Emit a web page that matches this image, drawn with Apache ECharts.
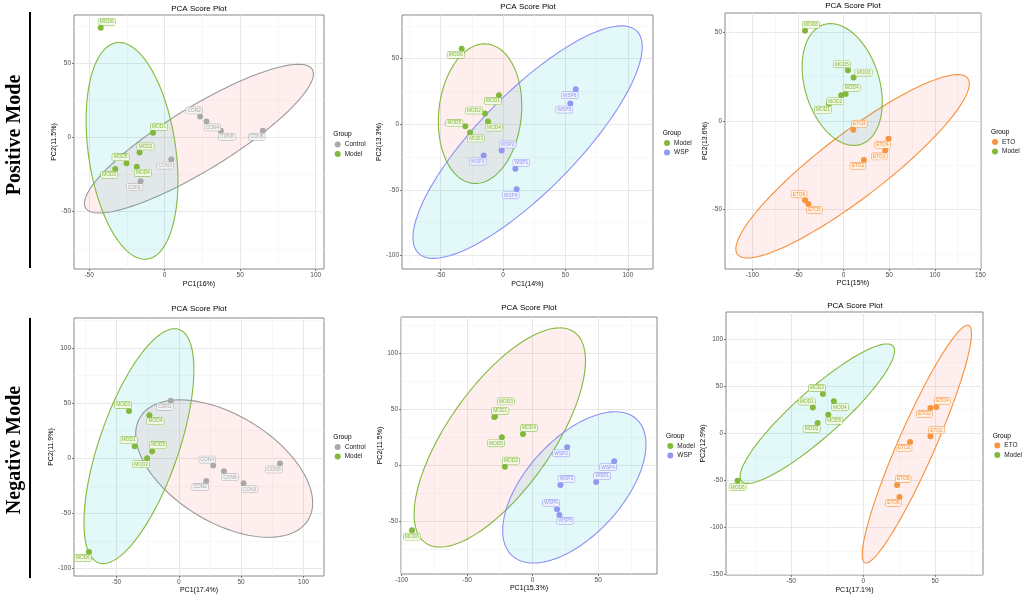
<!DOCTYPE html>
<html>
<head>
<meta charset="utf-8">
<title>PCA Score Plot</title>
<script src="https://cdn.jsdelivr.net/npm/echarts@6/dist/echarts.min.js"></script>
<style>
html,body{margin:0;padding:0;background:#fff;}
#main{width:1024px;height:595px;}
</style>
</head>
<body>
<div id="main"></div>
<script>
// ---------- data, points ordered 1..6 ----------
// Positive mode: Control vs Model
var p1ConX = [-15.9, 23.5, 4.4, 27.7, 65.0, 37.2];
var p1ConY = [-29.5, 14.2, -14.9, 10.8, 4.5, 4.5];
var p1ModX = [-7.7, -16.6, -32.7, -18.4, -25.2, -42.3];
var p1ModY = [3.2, -10.1, -21.2, -19.8, -17.3, 73.9];
// Positive mode: Model vs WSP
var p2ModX = [-3.2, -14.4, -26.4, -12.0, -30.2, -33.1];
var p2ModY = [22.1, 8.1, -6.3, 2.0, -1.5, 57.4];
var p2WspX = [9.9, -1.1, -15.5, 10.9, 53.9, 58.2];
var p2WspY = [-34.0, -20.1, -23.9, -49.7, 15.7, 26.6];
// Positive mode: ETO vs Model
var p3EtoX = [45.6, 22.2, 10.6, 49.2, -38.6, -42.3];
var p3EtoY = [-16.6, -22.0, -4.9, -10.0, -46.9, -44.8];
var p3ModX = [-16.0, -2.6, 10.9, 2.2, 4.7, -42.3];
var p3ModY = [9.8, 14.5, 24.5, 15.3, 28.6, 51.0];
// Negative mode: Control vs Model
var p4ConX = [-6.4, 22.0, 52.0, 27.6, 81.2, 36.2];
var p4ConY = [52.0, -20.6, -22.7, -6.7, -4.8, -11.8];
var p4ModX = [-35.4, -25.4, -39.9, -23.6, -21.4, -72.1];
var p4ModY = [10.9, 0.0, 42.7, 39.0, 6.4, -85.0];
// Negative mode: Model vs WSP
var p5ModX = [-29.3, -21.2, -28.8, -7.4, -23.5, -92.1];
var p5ModY = [43.0, -1.2, 43.6, 27.9, 24.9, -57.8];
var p5WspX = [48.5, 26.3, 21.2, 62.2, 20.4, 18.6];
var p5WspY = [-14.8, 16.0, -17.5, 3.6, -44.2, -39.1];
// Negative mode: ETO vs Model
var p6EtoX = [46.8, 46.8, 32.6, 50.9, 23.6, 25.2];
var p6EtoY = [-3.2, 26.8, -9.2, 27.9, -55.0, -67.7];
var p6ModX = [-35.0, -31.7, -28.0, -20.4, -24.3, -87.3];
var p6ModY = [27.2, 10.9, 41.6, 33.9, 19.7, -50.4];

// confidence ellipses: [centerX, centerY, halfWidthX, halfHeightY, tilt(-1..1)]
var p1ConEll = [22.7, -0.8, 75.8, 50.1, 0.87];
var p1ModEll = [-21.6, -9.0, 30.4, 73.0, -0.28];
var p2ModEll = [-18.4, 8.0, 33.4, 53.2, 0.11];
var p2WspEll = [19.7, -13.7, 91.8, 88.6, 0.82];
var p3EtoEll = [9.8, -25.6, 127.9, 51.8, 0.9];
var p3ModEll = [-1.6, 20.6, 43.9, 34.4, -0.29];
var p4ConEll = [36.4, -9.4, 71.0, 62.3, -0.5];
var p4ModEll = [-32.0, 10.9, 44.1, 106.5, 0.65];
var p5ModEll = [-25.1, 24.8, 65.4, 97.7, 0.7];
var p5WspEll = [31.8, -19.7, 54.7, 67.4, 0.57];
var p6EtoEll = [37.3, -11.6, 38.0, 126.2, 0.93];
var p6ModEll = [-31.9, 20.8, 53.7, 74.0, 0.9];

// axis ranges and tick labels
var p1XRange = [-60, 105.5], p1YRange = [-88.6, 82.5];
var p2XRange = [-80.9, 120.1], p2YRange = [-110.4, 83.2];
var p3XRange = [-130, 150.5], p3YRange = [-83.6, 61];
var p4XRange = [-84.1, 116.5], p4YRange = [-106.8, 127.1];
var p5XRange = [-100.5, 94.9], p5YRange = [-96.9, 132.2];
var p6XRange = [-95.4, 83.3], p6YRange = [-150.5, 128.7];
var p1XTicks = [-50, 0, 50, 100], p1YTicks = [-50, 0, 50];
var p2XTicks = [-50, 0, 50, 100], p2YTicks = [-100, -50, 0, 50];
var p3XTicks = [-100, -50, 0, 50, 100, 150], p3YTicks = [-50, 0, 50];
var p4XTicks = [-50, 0, 50, 100], p4YTicks = [-100, -50, 0, 50, 100];
var p5XTicks = [-100, -50, 0, 50], p5YTicks = [-50, 0, 50, 100];
var p6XTicks = [-50, 0, 50], p6YTicks = [-150, -100, -50, 0, 50, 100];

// label placement around each point (style only)
var p1ConLab = ['bl', 'tl', 'bl', 'br', 'bl', 'br'];
var p1ModLab = ['tr', 'tr', 'bl', 'br', 'tl', 'tr'];
var p2ModLab = ['bl', 'l', 'br', 'br', 'l', 'bl'];
var p2WspLab = ['tr', 'tr', 'bl', 'bl', 'bl', 'bl'];
var p3EtoLab = ['bl', 'bl', 'tr', 'bl', 'br', 'tl'];
var p3ModLab = ['bl', 'bl', 'r', 'tr', 'tl', 'tr'];
var p4ConLab = ['bl', 'bl', 'br', 'tl', 'bl', 'br'];
var p4ModLab = ['tl', 'bl', 'tl', 'br', 'tr', 'bl'];
var p5ModLab = ['tr', 'tr', 'tt', 'tr', 'bl', 'b'];
var p5WspLab = ['tr', 'bl', 'tr', 'bl', 'br', 'tl'];
var p6EtoLab = ['tr', 'bl', 'bl', 'tr', 'tr', 'bl'];
var p6ModLab = ['tl', 'bl', 'tl', 'br', 'br', 'b'];

var OFF = {tr: [6, -6], tl: [-6, -6], br: [6, 6], bl: [-6, 6], t: [0, -6.5], b: [0, 6.5],
    l: [-11, -3], r: [10, -5], tt: [11, -15]};

var COLORS = {
    Control: {c: '#a9a9a9', line: '#9a9a9a', bg: '#f3f3f3', prefix: 'CON'},
    Model: {c: '#82b93a', line: '#86b83a', bg: '#f2f8e6', prefix: 'MOD'},
    WSP: {c: '#9098f2', line: '#8f8ff5', bg: '#eff0fd', prefix: 'WSP'},
    ETO: {c: '#f7943e', line: '#f7903a', bg: '#fef0e3', prefix: 'ETO'}
};
var FILLS = ['rgba(248,118,109,0.12)', 'rgba(0,191,196,0.11)'];
var FONT = 'Liberation Sans';

var panels = [
    {g: [74, 15, 250, 254], t: [199, 9], xName: 'PC1(16%)', yName: 'PC2(11.5%)', xGap: 11.5, yGap: 14,
        xr: p1XRange, yr: p1YRange, xt: p1XTicks, yt: p1YTicks, leg: [334.7, 141], hdr: [333.3, 135],
        groups: [['Control', p1ConX, p1ConY, p1ConLab, p1ConEll], ['Model', p1ModX, p1ModY, p1ModLab, p1ModEll]]},
    {g: [402, 15, 251, 254], t: [528, 7], xName: 'PC1(14%)', yName: 'PC2(13.3%)', xGap: 11.5, yGap: 18,
        xr: p2XRange, yr: p2YRange, xt: p2XTicks, yt: p2YTicks, leg: [664, 139.5], hdr: [662.7, 133.3],
        groups: [['Model', p2ModX, p2ModY, p2ModLab, p2ModEll], ['WSP', p2WspX, p2WspY, p2WspLab, p2WspEll]]},
    {g: [725, 13, 256, 256], t: [853, 5.7], xName: 'PC1(15%)', yName: 'PC2(13.6%)', xGap: 11, yGap: 14,
        xr: p3XRange, yr: p3YRange, xt: p3XTicks, yt: p3YTicks, leg: [992, 138.5], hdr: [991, 132.7],
        groups: [['ETO', p3EtoX, p3EtoY, p3EtoLab, p3EtoEll], ['Model', p3ModX, p3ModY, p3ModLab, p3ModEll]]},
    {g: [74, 318, 250, 258], t: [199, 309], xName: 'PC1(17.4%)', yName: 'PC2(11.9%)', xGap: 10, yGap: 19,
        xr: p4XRange, yr: p4YRange, xt: p4XTicks, yt: p4YTicks, leg: [334.7, 443.5], hdr: [333.3, 437.7],
        groups: [['Control', p4ConX, p4ConY, p4ConLab, p4ConEll], ['Model', p4ModX, p4ModY, p4ModLab, p4ModEll]]},
    {g: [401, 317, 256, 257], t: [529, 308], xName: 'PC1(15.3%)', yName: 'PC2(11.5%)', xGap: 11, yGap: 15,
        xr: p5XRange, yr: p5YRange, xt: p5XTicks, yt: p5YTicks, leg: [667.3, 442.5], hdr: [666, 436.7],
        groups: [['Model', p5ModX, p5ModY, p5ModLab, p5ModEll], ['WSP', p5WspX, p5WspY, p5WspLab, p5WspEll]]},
    {g: [726, 312, 257, 263], t: [855, 305.7], xName: 'PC1(17.1%)', yName: 'PC2(12.9%)', xGap: 11.5, yGap: 17.5,
        xr: p6XRange, yr: p6YRange, xt: p6XTicks, yt: p6YTicks, leg: [994.3, 442], hdr: [992.7, 436.7],
        groups: [['ETO', p6EtoX, p6EtoY, p6EtoLab, p6EtoEll], ['Model', p6ModX, p6ModY, p6ModLab, p6ModEll]]}
];

function makeAxis(i, p, isX) {
    var ticks = isX ? p.xt : p.yt;
    var range = isX ? p.xr : p.yr;
    var step = ticks[1] - ticks[0];
    return {
        type: 'value', gridIndex: i, min: range[0], max: range[1],
        minInterval: step, maxInterval: step,
        name: isX ? p.xName : p.yName, nameLocation: 'middle', nameGap: isX ? p.xGap : p.yGap,
        nameTextStyle: {fontSize: 7, color: '#000', fontFamily: FONT},
        axisLine: {show: false, onZero: false},
        axisTick: {show: true, length: 2, customValues: ticks, lineStyle: {color: '#444', width: 0.7}},
        axisLabel: {fontSize: 6.5, color: '#4d4d4d', margin: 3, fontFamily: FONT, customValues: ticks},
        splitLine: {show: true, lineStyle: {color: '#e2e2e2', width: 0.8}},
        minorTick: {show: false, splitNumber: 2},
        minorSplitLine: {show: true, lineStyle: {color: '#f1f1f1', width: 0.6}}
    };
}

function ellipseRenderer(e, stroke, fill) {
    return function (params, api) {
        var d = Math.acos(e[4]);
        var pts = [];
        for (var k = 0; k < 160; k++) {
            var t = k / 160 * 2 * Math.PI;
            pts.push(api.coord([e[0] + e[2] * Math.cos(t), e[1] + e[3] * Math.cos(t - d)]));
        }
        return {type: 'polygon', shape: {points: pts}, style: {fill: fill, stroke: stroke, lineWidth: 1.1}};
    };
}

var grids = [], xAxes = [], yAxes = [], titles = [], legends = [], series = [], graphics = [];

panels.forEach(function (p, i) {
    grids.push({left: p.g[0], top: p.g[1], width: p.g[2], height: p.g[3], show: true,
        borderColor: '#888', borderWidth: 1, backgroundColor: '#fff'});
    xAxes.push(makeAxis(i, p, true));
    yAxes.push(makeAxis(i, p, false));
    titles.push({text: 'PCA Score Plot', left: p.t[0], top: p.t[1], textAlign: 'center',
        textVerticalAlign: 'middle', padding: 0,
        textStyle: {fontSize: 8, fontWeight: 'normal', color: '#000', fontFamily: FONT}});
    graphics.push({type: 'text', left: p.hdr[0], top: p.hdr[1] - 4,
        style: {text: 'Group', fontSize: 6.6, fill: '#000', font: '6.6px ' + FONT}});
    legends.push({data: [p.groups[0][0], p.groups[1][0]], orient: 'vertical', left: p.leg[0], top: p.leg[1],
        padding: 0, itemGap: 2.5, itemWidth: 6, itemHeight: 6, icon: 'circle', selectedMode: false,
        textStyle: {fontSize: 6.5, color: '#1a1a1a', fontFamily: FONT, padding: [0, 0, 0, -1]}});

    p.groups.forEach(function (g, gi) {
        var col = COLORS[g[0]];
        series.push({
            type: 'custom', name: g[0] + ' ellipse', xAxisIndex: i, yAxisIndex: i, z: 1, silent: true,
            renderItem: ellipseRenderer(g[4], col.line, FILLS[gi]),
            data: [[g[4][0], g[4][1]]]
        });
    });
    p.groups.forEach(function (g) {
        var col = COLORS[g[0]];
        var pts = g[1].map(function (x, k) {
            return {name: col.prefix + (k + 1), value: [x, g[2][k]], label: {offset: OFF[g[3][k]]}};
        });
        series.push({
            type: 'scatter', name: g[0], xAxisIndex: i, yAxisIndex: i, z: 3,
            symbol: 'circle', symbolSize: 6, itemStyle: {color: col.c, opacity: 1},
            label: {show: true, position: 'inside', formatter: '{b}', fontSize: 4.8, fontFamily: FONT,
                color: col.c, backgroundColor: col.bg, borderColor: col.c, borderWidth: 0.5,
                borderRadius: 1.2, padding: [1, 1.4, 0.5, 1.4]},
            emphasis: {disabled: true},
            data: pts
        });
    });
});

// side captions with rules
graphics.push(
    {type: 'text', x: 15, y: 135, rotation: Math.PI / 2,
        style: {text: 'Positive Mode', font: 'bold 20px "Liberation Serif"', fill: '#000',
            textAlign: 'center', textVerticalAlign: 'middle'}},
    {type: 'text', x: 15, y: 450, rotation: Math.PI / 2,
        style: {text: 'Negative Mode', font: 'bold 20px "Liberation Serif"', fill: '#000',
            textAlign: 'center', textVerticalAlign: 'middle'}},
    {type: 'line', shape: {x1: 30, y1: 12, x2: 30, y2: 268}, style: {stroke: '#000', lineWidth: 2}},
    {type: 'line', shape: {x1: 30, y1: 318, x2: 30, y2: 578}, style: {stroke: '#000', lineWidth: 2}}
);

var myChart = echarts.init(document.getElementById('main'));
myChart.setOption({
    backgroundColor: '#fff',
    animation: false,
    title: titles,
    legend: legends,
    grid: grids,
    xAxis: xAxes,
    yAxis: yAxes,
    graphic: graphics,
    series: series
});
</script>
</body>
</html>
